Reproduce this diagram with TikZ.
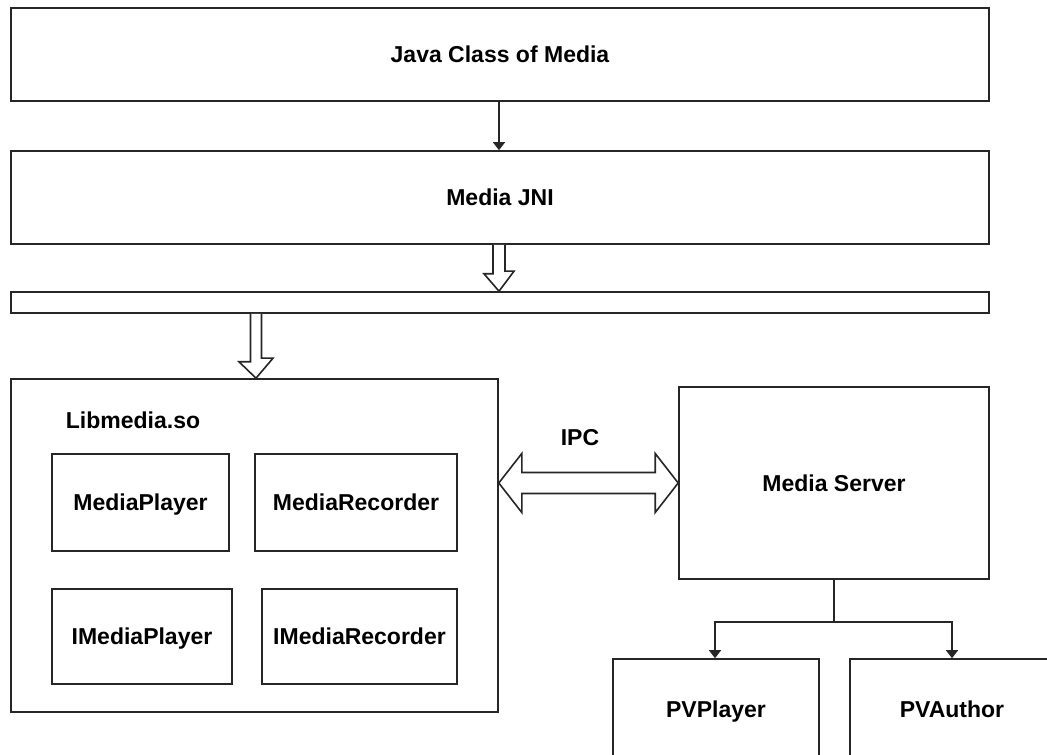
\documentclass[tikz,border=0pt]{standalone}
\usepackage{fontspec}
\setmainfont{Liberation Sans}
\usetikzlibrary{arrows.meta,calc}
\begin{document}
\begin{tikzpicture}[x=1pt,y=1pt,
  every node/.style={font=\fontsize{23}{27}\selectfont\bfseries},
  box/.style={draw=black!85, line width=1.6pt, inner sep=0pt, align=center,
              text height=19pt, text depth=2pt},
  lbl/.style={inner sep=0pt},
  link/.style={draw=black!85, line width=1.6pt, -{Triangle[width=12pt,length=8pt]}},
  blk/.style={draw=black!85, line width=1.6pt, fill=white, line join=miter}
]
\useasboundingbox (0,0) rectangle (1047,755);

% layered stack
\node[box, minimum width=978, minimum height=93] (java) at (500,700.5) {Java Class of Media};
\node[box, minimum width=978, minimum height=93] (jni)  at (500,557.5) {Media JNI};
\node[box, minimum width=978, minimum height=19] (bar)  at (500,452.5) {};

% libmedia container and its components
\node[box, minimum width=487, minimum height=333] (lib) at (254.5,209.5) {};
\node[lbl] (libname) at (133,335) {Libmedia.so};
\node[box, minimum width=177, minimum height=97] (mp)  at (140.5,252.5) {MediaPlayer};
\node[box, minimum width=202, minimum height=97] (mr)  at (356,252.5) {MediaRecorder};
\node[box, minimum width=180, minimum height=95] (imp) at (142,118.5) {IMediaPlayer};
\node[box, minimum width=195, minimum height=95] (imr) at (359.5,118.5) {IMediaRecorder};

% media server side
\node[box, minimum width=310, minimum height=192] (ms)  at (834,272) {Media Server};
\node[box, minimum width=206, minimum height=100] (pvp) at (716,46) {PVPlayer};
\node[box, minimum width=204, minimum height=100] (pva) at (952,46) {PVAuthor};
\node[lbl] (ipc) at (580,317) {IPC};

% plain arrow between the top layers
\draw[link] ($(java.south)+(-1,0)$) -- ($(jni.north)+(-1,0)$);

% hollow block arrows down the stack
\draw[blk] ($(jni.south)+(-7,0)$) -- ++(0,-29) -- ++(-9,0)
  -- ($(bar.north)+(-1,0)$) -- ++(15,20) -- ++(-9,0) -- ($(jni.south)+(5,0)$);
\draw[blk] ($(bar.south -| lib.north)+(-4,0)$) -- ++(0,-48) -- ++(-11.5,0)
  -- ($(lib.north)+(1.5,0)$) -- ++(17,20) -- ++(-11.5,0) -- ($(bar.south -| lib.north)+(7,0)$);

% IPC double block arrow
\coordinate (ipcL) at (lib.east |- ms.west);
\draw[blk] (ipcL) -- ++(23,29.5) -- ++(0,-19) -- ($(ms.west)+(-23,10.5)$)
  -- ++(0,19) -- (ms.west) -- ++(-23,-29.5) -- ++(0,19)
  -- ($(ipcL)+(23,-10.5)$) -- ++(0,-19) -- cycle;

% media server fan-out
\coordinate (fork) at ($(ms.south)+(0,-42)$);
\draw[line width=1.6pt, draw=black!85] (ms.south) -- (fork);
\draw[link] (fork) -| ($(pvp.north)+(-1,0)$);
\draw[link] (fork) -| (pva.north);
\end{tikzpicture}
\end{document}
